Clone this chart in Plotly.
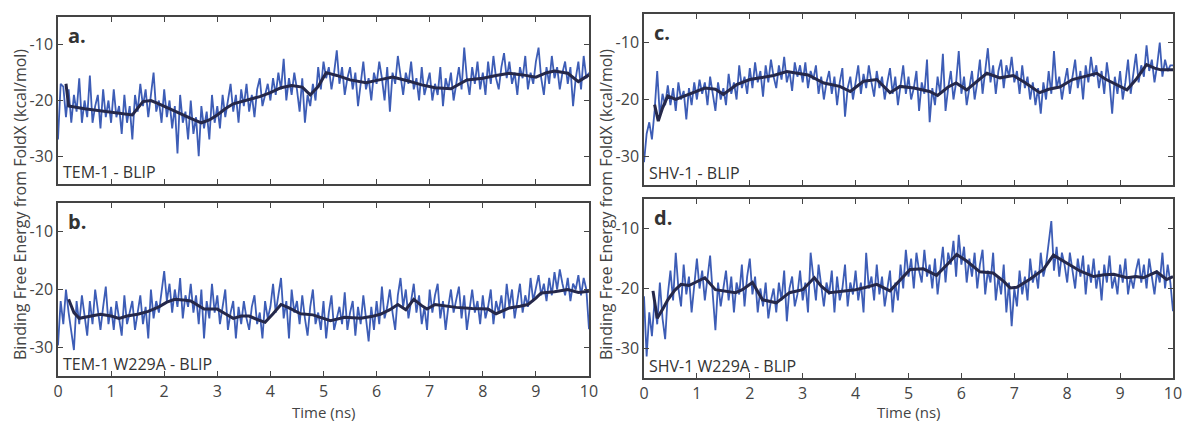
import plotly.graph_objects as go

W, H = 1184, 421

# sampling grid of the raw trajectories (ns)
dt = 0.05
time_ns = [round(i * dt, 2) for i in range(201)]

# raw binding free energies (kcal/mol)
tem1_raw = [
    -27, -17, -17.5, -23, -18, -24, -19, -22, -16, -24,
    -20, -23, -15.5, -24, -21, -19, -25, -18, -23, -20,
    -24, -18, -23, -21, -26, -19, -24, -21, -27, -19,
    -22, -17, -21, -18, -23, -19, -15, -22, -20, -24,
    -18, -23, -20, -25, -21, -29.5, -19, -24, -22, -27,
    -20, -26, -23, -30, -21, -25, -22, -27, -19, -24,
    -21, -25, -19, -23, -20, -17, -22, -19, -24, -18,
    -21, -17, -22, -19, -23, -18, -16, -21, -19, -17,
    -20, -16, -19, -15, -18, -12.5, -20, -16, -19, -15,
    -18, -22, -16, -24, -19, -21, -17, -20, -14, -18,
    -13, -16, -14, -18, -15, -11, -17, -14, -19, -16,
    -14, -18, -15, -21, -17, -13, -18, -16, -20, -15,
    -17, -13, -16, -20, -14, -22, -15, -17, -12, -16,
    -19, -15, -17, -13, -18, -16, -20, -14, -19, -17,
    -15, -20, -17, -19, -14, -21, -16, -18, -15, -20,
    -17, -14, -18, -10.5, -16, -19, -14, -17, -13, -18,
    -15, -19, -13, -17, -12, -16, -18, -14, -11.5, -16,
    -13, -17, -15, -19, -14, -16, -12, -18, -15, -17,
    -13, -10.5, -16, -19, -14, -17, -12, -16, -14, -18,
    -15, -13, -17, -14, -21, -16, -13, -18, -12, -16,
    -15,
]
tem1_w229a_raw = [
    -29.7, -22, -26, -20, -24, -27, -30.5, -22, -26, -21,
    -25, -28, -22, -26, -20, -24, -27, -23, -19.5, -26,
    -23, -27, -22, -25, -28, -21, -26, -24, -22, -27,
    -24, -21, -26, -23, -28.5, -20, -25, -22, -24, -20,
    -16.8, -22, -19, -24, -20, -23, -18, -25, -21, -23,
    -19, -24, -21, -26, -20, -28.5, -22, -25, -19, -24,
    -21, -26, -23, -20, -27, -24, -22, -28.5, -23, -26,
    -22, -25, -27, -23, -21, -26, -24, -28.5, -22, -25,
    -23, -19, -24, -21, -18, -25, -22, -28.5, -20, -24,
    -22, -26, -21, -25, -28, -23, -20, -26, -24, -27,
    -22, -28.5, -24, -21, -27, -25, -23, -26, -20.5, -27,
    -24, -22, -28, -23, -26, -21, -25, -29, -23, -27,
    -22, -26, -19.5, -25, -23, -20, -24, -27, -21, -18,
    -23, -20, -25, -22, -19, -24, -21, -26, -23, -27,
    -20, -24, -21, -19, -25, -22, -27, -23, -20, -24,
    -22, -19.5, -25, -21, -27, -23, -20, -24, -22, -26,
    -21, -25, -23, -20, -26, -22, -24, -21, -25, -19,
    -23, -20, -25, -22, -19, -24, -21, -23, -18, -22,
    -20, -17.5, -21, -19, -22, -18, -21, -17, -20, -16.5,
    -19, -21, -18, -22, -19, -20, -17.5, -21, -18, -20,
    -26.9,
]
shv1_raw = [
    -31, -26, -24, -27, -22, -15, -23, -19, -21, -17.5,
    -21, -18, -22, -17, -20, -18.5, -23.5, -18, -21, -17,
    -20, -16.5, -19, -17, -21, -16, -19, -22, -17, -20,
    -18, -21, -15.5, -19, -17, -20, -14, -18, -16, -19,
    -14.5, -18, -13.5, -17, -15, -19.5, -14, -17, -13, -16,
    -18, -14, -16.5, -12.5, -17, -15, -18.5, -13.5, -16, -14,
    -17, -13.5, -18, -15, -16.5, -14, -19, -16, -20, -17,
    -15, -19, -16, -21, -17, -14.5, -23, -18, -16, -20,
    -17, -14, -19, -15.5, -18, -14, -17, -19.5, -15, -18,
    -16, -20, -17, -14.5, -19, -16, -21, -17, -14, -19,
    -16, -20, -18, -15, -22, -17, -19, -13, -24, -18,
    -21, -16, -19, -12, -22, -18, -15, -20, -17, -11.5,
    -19, -16, -21, -18, -15, -20, -17, -13, -19, -15,
    -11, -17, -14, -19, -15, -13, -18, -14, -16, -12.5,
    -17, -15, -19, -14, -18, -16, -20, -17, -21, -18,
    -22.5, -17, -20, -15, -19, -11.5, -18, -16, -20, -17,
    -14.5, -19, -16, -13, -18, -15, -20, -14, -17, -12.5,
    -16, -14, -18, -15, -19, -13.5, -17, -22.5, -16, -19,
    -15, -20, -17, -13, -19, -15, -12, -17, -14, -16,
    -10.5, -15, -13, -17, -14, -10, -16, -13, -15, -14,
    -14,
]
shv1_w229a_raw = [
    -21.3, -31.4, -24, -28, -22, -26, -19, -25, -28.5, -21,
    -17, -22, -14, -20, -23, -16, -21, -18, -24, -19,
    -15, -20, -17, -22, -18, -14.5, -21, -27, -19, -23,
    -20, -17, -22, -18, -24, -19, -21, -16, -23, -18,
    -15, -21, -18, -24, -20, -23, -19, -25, -22, -20,
    -24, -19, -22, -17, -25.5, -20, -18, -23, -21, -17,
    -22, -19, -24, -14, -18, -22, -16, -20, -23, -19,
    -21, -17, -24, -18, -22, -20, -16, -23, -19, -21,
    -17, -22, -19, -24, -14, -20, -18, -22, -16, -21,
    -18, -23, -20, -17, -24, -19, -22, -16, -20, -13.5,
    -18, -15, -20, -14, -17, -19, -13.5, -18, -16, -20,
    -15, -21, -17, -13, -19, -14, -16, -12, -18, -11,
    -16, -13, -19, -15, -18, -14, -20, -16, -13.5, -21,
    -17, -19, -14, -22, -18, -21, -16, -24, -19, -26.3,
    -20, -23, -17, -21, -18, -22, -15, -19, -17, -20,
    -14, -18, -16, -12, -8.7, -17, -13, -18, -14, -16,
    -19, -14, -17, -20, -15, -18, -14.5, -21, -16, -19,
    -15, -20, -17, -22, -16, -19, -14.5, -20, -18, -21,
    -16, -19, -15, -21, -18, -20, -17, -15, -19, -16,
    -20, -15, -18, -21, -17, -19, -14, -20, -16, -19,
    -23.8,
]

# running averages
tem1_avg_t = [0.15, 0.2, 0.5, 0.75, 1.0, 1.25, 1.4, 1.6, 1.75, 1.9, 2.1, 2.3, 2.5, 2.7, 2.85,
              3.0, 3.15, 3.3, 3.55, 3.8, 4.0, 4.2, 4.4, 4.6, 4.75, 4.9, 5.05, 5.25, 5.5, 5.8,
              6.05, 6.3, 6.6, 6.85, 7.1, 7.4, 7.7, 8.0, 8.25, 8.5, 8.75, 9.0, 9.2, 9.35, 9.6,
              9.8, 10.0]
tem1_avg = [-17, -21, -21.5, -21.8, -22, -22.3, -22.6, -20.2, -20, -20.6, -21.5, -22.3, -23.2,
            -24, -23.5, -22.6, -21.5, -20.6, -20, -19.3, -18.6, -17.7, -17.3, -17.6, -19, -17.5,
            -15, -15.5, -16.3, -16.8, -16.3, -15.8, -16.5, -17.2, -17.7, -17.9, -16.3, -16,
            -15.5, -15.1, -15.4, -15.8, -15, -14.7, -15.1, -16.6, -15.4]

tem1_w229a_avg_t = [0.2, 0.3, 0.4, 0.6, 0.8, 1.0, 1.15, 1.3, 1.5, 1.7, 1.9, 2.05, 2.2, 2.35, 2.5,
                    2.75, 3.0, 3.15, 3.3, 3.45, 3.6, 3.75, 3.9, 4.05, 4.2, 4.35, 4.57, 4.8, 5.0,
                    5.13, 5.4, 5.7, 5.9, 6.07, 6.25, 6.4, 6.55, 6.7, 6.85, 6.95, 7.1, 7.3, 7.5,
                    7.8, 8.1, 8.25, 8.5, 8.7, 8.85, 9.0, 9.1, 9.35, 9.6, 9.8, 10.0]
tem1_w229a_avg = [-21.7, -24, -25, -24.6, -24.3, -24.6, -25, -24.6, -24.3, -23.8, -23, -22.2,
                  -21.7, -21.8, -22, -23.4, -23.4, -24.2, -25, -24.6, -24.6, -25.2, -25.7, -24.2,
                  -22.6, -23.2, -24.2, -24.4, -25, -25.4, -24.8, -25, -24.7, -24.3, -23.5, -22.6,
                  -23.5, -21.7, -22.8, -23.4, -22.6, -22.9, -23.1, -23.3, -23.4, -24.2, -23.2,
                  -22.9, -22.6, -21.5, -20.6, -20.4, -20, -20.5, -20.3]

shv1_avg_t = [0.2, 0.27, 0.35, 0.45, 0.6, 0.8, 0.95, 1.15, 1.35, 1.5, 1.75, 2.0, 2.2, 2.45, 2.7,
              2.9, 3.1, 3.4, 3.7, 3.9, 4.15, 4.4, 4.65, 4.84, 5.1, 5.4, 5.55, 5.75, 5.9, 6.1,
              6.3, 6.48, 6.73, 6.98, 7.2, 7.48, 7.65, 7.86, 8.1, 8.3, 8.56, 8.72, 8.88, 9.13,
              9.3, 9.5, 9.65, 9.77, 10.0]
shv1_avg = [-20.9, -23.8, -21.5, -19.4, -20, -19.3, -18.8, -18, -18.2, -19.1, -17.4, -16.5,
            -16.2, -15.8, -15.1, -15.4, -15.7, -17.1, -17.7, -18.6, -16.8, -16.5, -18.8, -17.7,
            -18, -18.6, -19.3, -17.8, -17.1, -18.3, -16.8, -15.4, -16.2, -15.8, -17, -18.8,
            -18.2, -17.8, -16.5, -16, -15.4, -16.4, -17.1, -18.3, -16.5, -13.9, -14.5, -14.8,
            -14.8]

shv1_w229a_avg_t = [0.17, 0.25, 0.35, 0.45, 0.58, 0.7, 0.85, 1.0, 1.15, 1.35, 1.55, 1.73, 1.86,
                    2.05, 2.24, 2.5, 2.75, 3.0, 3.22, 3.35, 3.5, 3.75, 4.0, 4.2, 4.4, 4.65, 4.85,
                    5.03, 5.28, 5.53, 5.75, 5.91, 6.1, 6.35, 6.6, 6.8, 6.92, 7.05, 7.3, 7.55,
                    7.74, 8.0, 8.25, 8.5, 8.7, 8.88, 9.13, 9.3, 9.44, 9.69, 9.88, 10.0]
shv1_w229a_avg = [-20.4, -25, -23.5, -21.9, -20.3, -19.3, -19.5, -18.8, -18.2, -20.2, -20.5,
                  -20.7, -20.2, -19, -21.9, -22.4, -20.7, -20.2, -18.2, -19.6, -20.7, -20.4,
                  -20.2, -19.8, -19.3, -20.4, -18.5, -16.8, -16.7, -17.8, -15.8, -14.3, -15.4,
                  -17.2, -17.4, -18.8, -19.9, -19.8, -18.4, -16.8, -14.4, -15.8, -17.1, -18,
                  -17.7, -17.6, -18.2, -18, -18.2, -17.2, -18.5, -18]

panel_letters = ['a.', 'b.', 'c.', 'd.']
panel_names = ['TEM-1 - BLIP', 'TEM-1 W229A - BLIP', 'SHV-1 - BLIP', 'SHV-1 W229A - BLIP']
y_tickvals = [-30, -20, -10]
y_ticktext = ['-30', '-20', '-10']
x_tickvals = list(range(0, 11))

blue = '#3d5db6'
dark = '#25284a'
grey = '#444444'
font_family = 'Open Sans, sans-serif'


def px(x):
    return x / W


def py(y):
    return 1 - y / H


# panel boxes in pixels: (left, right, top, bottom)
boxes = [(58, 589, 17, 184), (58, 589, 203, 376), (644, 1173, 14, 185), (644, 1173, 199, 378)]

raw_series = [tem1_raw, tem1_w229a_raw, shv1_raw, shv1_w229a_raw]
avg_series = [(tem1_avg_t, tem1_avg), (tem1_w229a_avg_t, tem1_w229a_avg),
              (shv1_avg_t, shv1_avg), (shv1_w229a_avg_t, shv1_w229a_avg)]

fig = go.Figure()
layout = {}
annotations = []

for i in range(4):
    n = '' if i == 0 else str(i + 1)
    left, right, top, bottom = boxes[i]

    fig.add_trace(go.Scatter(x=time_ns, y=raw_series[i], mode='lines',
                             line=dict(color=blue, width=1.8),
                             xaxis='x' + n, yaxis='y' + n, showlegend=False))
    fig.add_trace(go.Scatter(x=avg_series[i][0], y=avg_series[i][1], mode='lines',
                             line=dict(color=dark, width=3),
                             xaxis='x' + n, yaxis='y' + n, showlegend=False))

    bottom_row = i in (1, 3)
    layout['xaxis' + n] = dict(domain=[px(left), px(right)], anchor='y' + n,
                               range=[0, 10], tickvals=x_tickvals,
                               showticklabels=bottom_row, automargin=False,
                               ticks='inside', ticklen=5, tickcolor=grey,
                               showline=True, linecolor=grey, linewidth=1.5,
                               mirror='ticks', showgrid=False, zeroline=False,
                               tickfont=dict(size=16, color=grey, family=font_family))
    layout['yaxis' + n] = dict(domain=[py(bottom), py(top)], anchor='x' + n,
                               range=[-35, -5], tickvals=y_tickvals, ticktext=y_ticktext,
                               automargin=False,
                               ticks='inside', ticklen=5, tickcolor=grey,
                               showline=True, linecolor=grey, linewidth=1.5,
                               mirror='ticks', showgrid=False, zeroline=False,
                               tickfont=dict(size=16, color=grey, family=font_family))

    annotations.append(dict(text='<b>' + panel_letters[i] + '</b>', x=px(left + 8),
                            y=py(top + 18), xref='paper', yref='paper',
                            xanchor='left', yanchor='middle', showarrow=False,
                            font=dict(size=20, color='#333333', family=font_family)))
    annotations.append(dict(text=panel_names[i], x=px(left + 3), y=py(bottom - 12),
                            xref='paper', yref='paper', xanchor='left', yanchor='middle',
                            showarrow=False,
                            font=dict(size=16, color='#333333', family=font_family)))

# shared axis titles
for x_label in (20, 606):
    annotations.append(dict(text='Binding Free Energy from FoldX (kcal/mol)', x=px(x_label),
                            y=py(205), xref='paper', yref='paper', textangle=-90,
                            xanchor='center', yanchor='middle', showarrow=False,
                            font=dict(size=16, color=grey, family=font_family)))
for x_center in (323, 908):
    annotations.append(dict(text='Time (ns)', x=px(x_center), y=py(412), xref='paper',
                            yref='paper', xanchor='center', yanchor='middle',
                            showarrow=False,
                            font=dict(size=15, color=grey, family=font_family)))

fig.update_layout(**layout)
fig.update_layout(width=W, height=H, margin=dict(l=0, r=0, t=0, b=0, autoexpand=False),
                  plot_bgcolor='white', paper_bgcolor='white',
                  annotations=annotations)

fig.write_html("out.html", config={'displayModeBar': False},
               post_script="document.body.style.margin='0px';")
